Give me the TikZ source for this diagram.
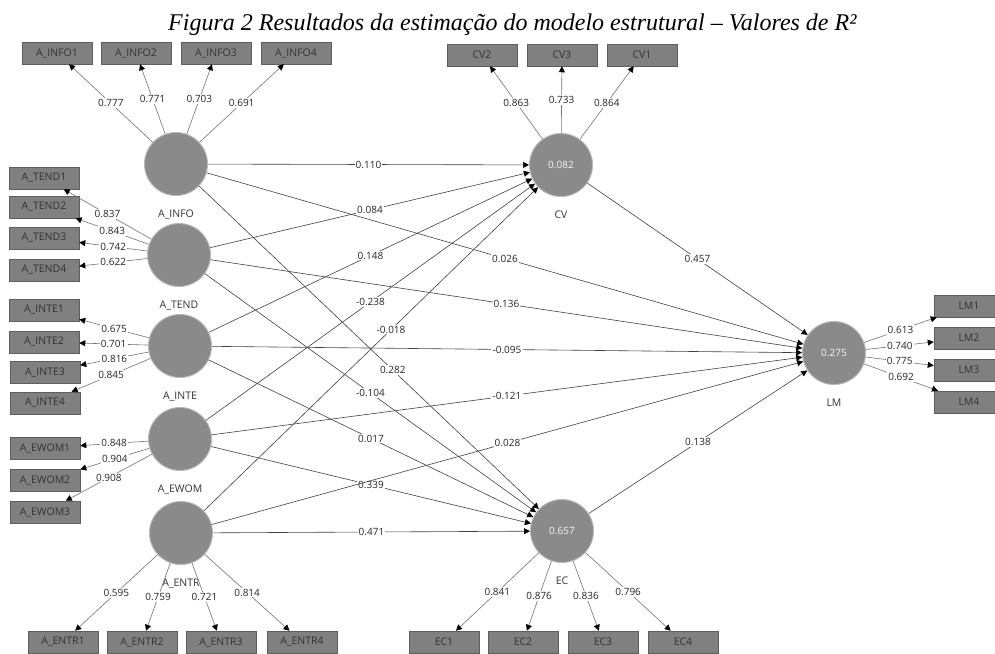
\documentclass[tikz,border=0pt]{standalone}
\usepackage{fontspec}
\setmainfont{Open Sans}
\newfontfamily\captionfont{Liberation Serif}
\usetikzlibrary{arrows.meta}

\definecolor{lvfill}{HTML}{8A8A8A}
\definecolor{lvrim}{HTML}{B8B8B8}
\definecolor{mvfill}{HTML}{808080}
\definecolor{mvrim}{HTML}{5E5E5E}

\begin{document}
\begin{tikzpicture}[x=1pt,y=-1pt,
    latent/.style={circle,fill=lvfill,draw=lvrim,line width=1pt,minimum size=63pt,inner sep=0pt,
                   text=white!92!gray,font=\fontsize{10}{12}\selectfont},
    lvname/.style={font=\fontsize{10.5}{12}\selectfont,text=black!80,yshift=-10pt},
    manifest/.style={rectangle,fill=mvfill,draw=mvrim,line width=0.5pt,minimum width=70pt,
                     minimum height=22pt,inner sep=0pt,text=black!80,font=\fontsize{10.5}{12}\selectfont},
    outer/.style={draw=black!55,line width=0.6pt,-{Triangle[length=6pt,width=6pt,color=black]}},
    inner/.style={draw=black!75,line width=0.6pt,-{Triangle[length=6pt,width=6pt,color=black]}},
    coef/.style={fill=white,inner sep=1.2pt,text=black!85,font=\fontsize{10}{12}\selectfont}
]
\useasboundingbox (0,0) rectangle (995,653);
\clip (0,0) rectangle (995,653);

% Caption
\node [anchor=base west,inner sep=0pt,font=\captionfont\itshape\fontsize{24}{26}\selectfont]
    (caption) at (168,30) {Figura 2 Resultados da estimação do modelo estrutural – Valores de R²};

% Draw the latent variables
\node [latent,label={[lvname]below:A\_INFO}] (info) at (176,164) {};
\node [latent,label={[lvname]below:A\_TEND}] (tend) at (179,255) {};
\node [latent,label={[lvname]below:A\_INTE}] (inte) at (180,346) {};
\node [latent,label={[lvname]below:A\_EWOM}] (ewom) at (180,439) {};
\node [latent,label={[lvname]below:A\_ENTR}] (entr) at (181,533) {};
\node [latent,label={[lvname]below:CV}] (cv) at (561,165) {0.082};
\node [latent,label={[lvname]below:EC}] (ec) at (562,531) {0.657};
\node [latent,label={[lvname]below:LM}] (lm) at (834,353) {0.275};

% Draw the indicators
%
% A_INFO and CV indicators (top row).
\node [manifest] (info1) at (57,53)  {A\_INFO1};
\node [manifest] (info2) at (136,53) {A\_INFO2};
\node [manifest] (info3) at (216,53) {A\_INFO3};
\node [manifest] (info4) at (296,53) {A\_INFO4};
\node [manifest] (cv2) at (482,55) {CV2};
\node [manifest] (cv3) at (562,55) {CV3};
\node [manifest] (cv1) at (642,55) {CV1};

% Indicators on the left.
\node [manifest] (tend1) at (44,178) {A\_TEND1};
\node [manifest] (tend2) at (44,207) {A\_TEND2};
\node [manifest] (tend3) at (44,238) {A\_TEND3};
\node [manifest] (tend4) at (44,270) {A\_TEND4};
\node [manifest] (inte1) at (44,310) {A\_INTE1};
\node [manifest] (inte2) at (44,342) {A\_INTE2};
\node [manifest] (inte3) at (45,372) {A\_INTE3};
\node [manifest] (inte4) at (45,403) {A\_INTE4};
\node [manifest] (ewom1) at (45,448) {A\_EWOM1};
\node [manifest] (ewom2) at (45,480) {A\_EWOM2};
\node [manifest] (ewom3) at (45,512) {A\_EWOM3};

% A_ENTR and EC indicators (bottom row).
\node [manifest] (entr1) at (63,642)  {A\_ENTR1};
\node [manifest] (entr2) at (142,642) {A\_ENTR2};
\node [manifest] (entr3) at (221,642) {A\_ENTR3};
\node [manifest] (entr4) at (302,642) {A\_ENTR4};
\node [manifest] (ec1) at (444,642) {EC1};
\node [manifest] (ec2) at (523,642) {EC2};
\node [manifest] (ec3) at (603,642) {EC3};
\node [manifest] (ec4) at (683,642) {EC4};

% LM indicators on the right.
\node [manifest] (lm1) at (969,306) {LM1};
\node [manifest] (lm2) at (969,338) {LM2};
\node [manifest] (lm3) at (969,370) {LM3};
\node [manifest] (lm4) at (969,402) {LM4};

% Outer loadings
\draw [outer] (info) -- node[coef] {0.777} (info1);
\draw [outer] (info) -- node[coef] {0.771} (info2);
\draw [outer] (info) -- node[coef] {0.703} (info3);
\draw [outer] (info) -- node[coef] {0.691} (info4);

\draw [outer] (tend) -- node[coef] {0.837} (tend1);
\draw [outer] (tend) -- node[coef] {0.843} (tend2);
\draw [outer] (tend) -- node[coef] {0.742} (tend3);
\draw [outer] (tend) -- node[coef] {0.622} (tend4);

\draw [outer] (inte) -- node[coef] {0.675} (inte1);
\draw [outer] (inte) -- node[coef] {0.701} (inte2);
\draw [outer] (inte) -- node[coef] {0.816} (inte3);
\draw [outer] (inte) -- node[coef] {0.845} (inte4);

\draw [outer] (ewom) -- node[coef] {0.848} (ewom1);
\draw [outer] (ewom) -- node[coef] {0.904} (ewom2);
\draw [outer] (ewom) -- node[coef] {0.908} (ewom3);

\draw [outer] (entr) -- node[coef] {0.595} (entr1);
\draw [outer] (entr) -- node[coef] {0.759} (entr2);
\draw [outer] (entr) -- node[coef] {0.721} (entr3);
\draw [outer] (entr) -- node[coef] {0.814} (entr4);

\draw [outer] (cv) -- node[coef] {0.863} (cv2);
\draw [outer] (cv) -- node[coef] {0.733} (cv3);
\draw [outer] (cv) -- node[coef] {0.864} (cv1);

\draw [outer] (ec) -- node[coef] {0.841} (ec1);
\draw [outer] (ec) -- node[coef] {0.876} (ec2);
\draw [outer] (ec) -- node[coef] {0.836} (ec3);
\draw [outer] (ec) -- node[coef] {0.796} (ec4);

\draw [outer] (lm) -- node[coef] {0.613} (lm1);
\draw [outer] (lm) -- node[coef] {0.740} (lm2);
\draw [outer] (lm) -- node[coef] {0.775} (lm3);
\draw [outer] (lm) -- node[coef] {0.692} (lm4);

% Path coefficients
%
% Paths to CV.
\draw [inner] (info) -- node[coef] {0.110} (cv);
\draw [inner] (tend) -- node[coef] {0.084} (cv);
\draw [inner] (inte) -- node[coef] {0.148} (cv);
\draw [inner] (ewom) -- node[coef] {-0.238} (cv);
\draw [inner] (entr) -- node[coef,pos=0.56] {-0.018} (cv);
%
% Paths to EC.
\draw [inner] (info) -- node[coef,pos=0.57] {0.282} (ec);
\draw [inner] (tend) -- node[coef] {-0.104} (ec);
\draw [inner] (inte) -- node[coef] {0.017} (ec);
\draw [inner] (ewom) -- node[coef] {0.339} (ec);
\draw [inner] (entr) -- node[coef] {0.471} (ec);
%
% Paths to LM.
\draw [inner] (info) -- node[coef] {0.026} (lm);
\draw [inner] (tend) -- node[coef] {0.136} (lm);
\draw [inner] (inte) -- node[coef] {-0.095} (lm);
\draw [inner] (ewom) -- node[coef] {-0.121} (lm);
\draw [inner] (entr) -- node[coef] {0.028} (lm);
\draw [inner] (cv) -- node[coef] {0.457} (lm);
\draw [inner] (ec) -- node[coef] {0.138} (lm);

\end{tikzpicture}
\end{document}
